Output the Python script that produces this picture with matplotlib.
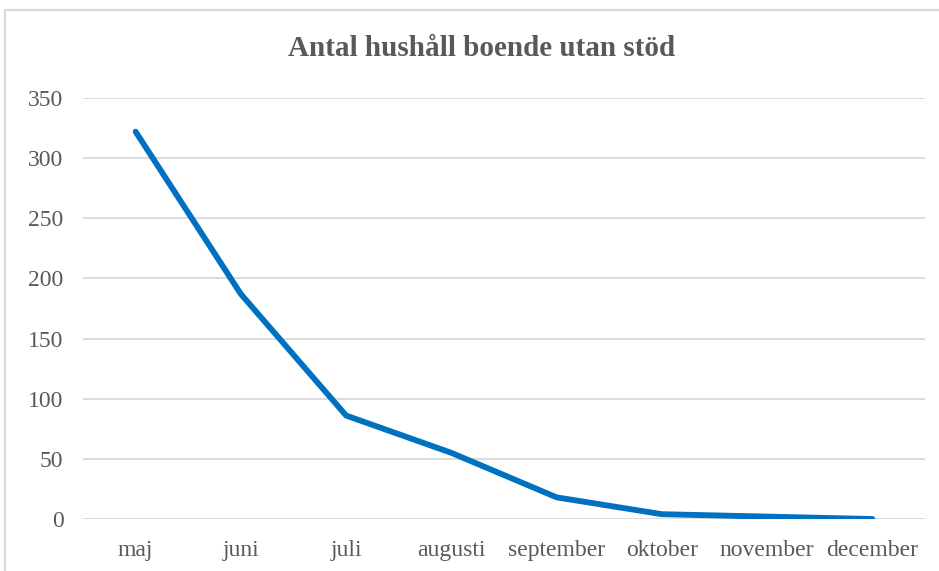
import matplotlib.pyplot as plt
from matplotlib.patches import Rectangle

months = ["maj", "juni", "juli", "augusti", "september", "oktober", "november", "december"]
households = [322, 187, 86, 55, 18, 4, 2, 0]
yticks = [0, 50, 100, 150, 200, 250, 300, 350]

plt.rcParams['font.family'] = ['Liberation Serif', 'DejaVu Serif']
text_color = "#595959"

fig = plt.figure(figsize=(9.39, 5.71), dpi=100)
ax = fig.add_axes([83 / 939, 52 / 571, 842 / 939, 421 / 571])

# chart frame (cut off at right and bottom like the original)
fig.patches.append(Rectangle((5 / 939, -0.05), 1.1, 1 - 10 / 571 + 0.05,
                             transform=fig.transFigure, fill=False,
                             edgecolor="#d9d9d9", linewidth=1.5, zorder=0))

x = list(range(len(months)))
ax.plot(x, households, color="#0070C0", linewidth=4.2,
        solid_capstyle="round", solid_joinstyle="round", zorder=3)

ax.set_xlim(-0.5, len(months) - 0.5)
ax.set_ylim(0, 350)
ax.set_yticks(yticks)
ax.set_xticks(x)
ax.set_xticklabels(months)
ax.grid(axis="y", color="#d9d9d9", linewidth=1.3)
ax.set_axisbelow(True)
for s in ax.spines.values():
    s.set_visible(False)
ax.tick_params(axis="both", length=0, labelsize=17, labelcolor=text_color)
ax.tick_params(axis="y", pad=14)
ax.tick_params(axis="x", pad=15)

fig.text(482 / 939, 1 - 49 / 571, "Antal hushåll boende utan stöd", ha="center", va="center",
         fontsize=21, fontweight="bold", color=text_color)

fig.savefig("out.png", dpi=100)
